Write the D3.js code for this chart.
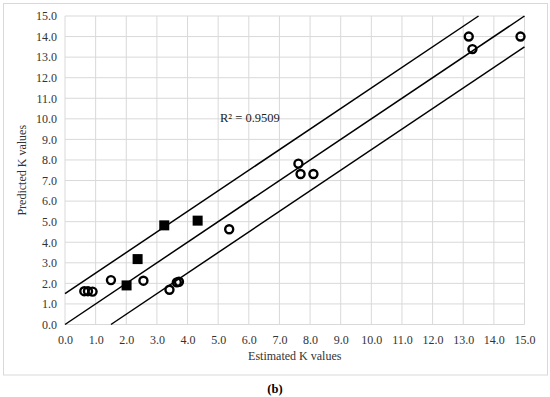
<!DOCTYPE html>
<html>
<head>
<meta charset="utf-8">
<script src="https://cdn.jsdelivr.net/npm/d3@7"></script>
<style>
  html, body { margin: 0; padding: 0; background: #fff; }
  svg { display: block; }
  svg text { font-family: 'Liberation Serif', 'Times New Roman', serif !important; }
</style>
</head>
<body>
<svg id="chart" width="550" height="397"></svg>
<script>
// Open-circle series (Estimated, Predicted)
const circleX = [0.63, 0.75, 0.90, 1.50, 2.56, 3.41, 3.65, 3.72, 5.36, 7.62, 7.69, 8.11, 13.18, 13.30, 14.87];
const circleY = [1.62, 1.62, 1.60, 2.16, 2.13, 1.69, 2.05, 2.08, 4.63, 7.82, 7.32, 7.32, 14.00, 13.39, 14.00];
// Filled-square series
const squareX = [2.01, 2.37, 3.24, 4.33];
const squareY = [1.90, 3.18, 4.82, 5.05];
// Reference lines: y = x + offset
const lineOffsets = [1.5, 0, -1.5];
const tickValues = [0, 1, 2, 3, 4, 5, 6, 7, 8, 9, 10, 11, 12, 13, 14, 15];
const r2Label = "R² = 0.9509";
const xTitle = "Estimated K values";
const yTitle = "Predicted K values";
const caption = "(b)";

(function () {
const svg = d3.select("#chart");
const mL = 65, mR = 524.5, mT = 16, mB = 324.5;
const x = d3.scaleLinear().domain([0, 15]).range([mL, mR]);
const y = d3.scaleLinear().domain([0, 15]).range([mB, mT]);

// outer frame
svg.append("rect").attr("x", 3.5).attr("y", 3.5).attr("width", 544).attr("height", 371.5)
  .attr("fill", "#fff").attr("stroke", "#d9d9d9").attr("stroke-width", 1);

// gridlines
const grid = svg.append("g");
grid.selectAll("line.v").data(tickValues).join("line").attr("class", "v")
  .attr("x1", d => x(d)).attr("x2", d => x(d)).attr("y1", y(0)).attr("y2", y(15))
  .attr("stroke", "#d9d9d9").attr("stroke-width", 1);
grid.selectAll("line.h").data(tickValues).join("line").attr("class", "h")
  .attr("y1", d => y(d)).attr("y2", d => y(d)).attr("x1", x(0)).attr("x2", x(15))
  .attr("stroke", "#d9d9d9").attr("stroke-width", 1);

// axes (labels only)
const xAxis = svg.append("g").attr("transform", `translate(0,${mB})`)
  .call(d3.axisBottom(x).tickValues(tickValues).tickFormat(d3.format(".1f")).tickSize(0).tickPadding(11));
const yAxis = svg.append("g").attr("transform", `translate(${mL},0)`)
  .call(d3.axisLeft(y).tickValues(tickValues).tickFormat(d3.format(".1f")).tickSize(0).tickPadding(8));
[xAxis, yAxis].forEach(a => {
  a.select(".domain").remove();
  a.attr("font-family", null);
  a.selectAll("text").attr("font-size", 12).attr("fill", "#333");
});

// reference lines clipped to the plot
const lines = svg.append("g");
lineOffsets.forEach(o => {
  const x0 = Math.max(0, -o), x1 = Math.min(15, 15 - o);
  lines.append("line")
    .attr("x1", x(x0)).attr("y1", y(x0 + o))
    .attr("x2", x(x1)).attr("y2", y(x1 + o))
    .attr("stroke", "#000").attr("stroke-width", 1.5);
});

// circles
svg.append("g").selectAll("circle").data(circleX.map((d, i) => [d, circleY[i]])).join("circle")
  .attr("cx", d => x(d[0])).attr("cy", d => y(d[1])).attr("r", 4)
  .attr("fill", "none").attr("stroke", "#000").attr("stroke-width", 2.4);

// squares
const s = 10;
svg.append("g").selectAll("rect").data(squareX.map((d, i) => [d, squareY[i]])).join("rect")
  .attr("x", d => x(d[0]) - s / 2).attr("y", d => y(d[1]) - s / 2)
  .attr("width", s).attr("height", s).attr("fill", "#000");

// R² label
svg.append("text").attr("x", 220).attr("y", 122).attr("font-size", 12.5).attr("fill", "#222")
  .text(r2Label);

// axis titles
svg.append("text").attr("x", (mL + mR) / 2).attr("y", 360).attr("text-anchor", "middle")
  .attr("font-size", 12).attr("fill", "#333").text(xTitle);
svg.append("text").attr("transform", `translate(26,${(mT + mB) / 2}) rotate(-90)`)
  .attr("text-anchor", "middle").attr("font-size", 12).attr("fill", "#333").text(yTitle);

// caption
svg.append("text").attr("x", 275).attr("y", 393).attr("text-anchor", "middle")
  .attr("font-size", 12.5).attr("font-weight", "bold").attr("fill", "#000").text(caption);
})();
</script>
</body>
</html>
